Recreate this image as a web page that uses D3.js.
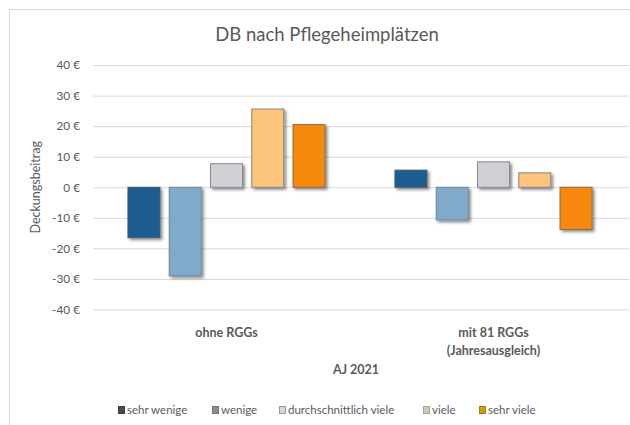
<!DOCTYPE html>
<html>
<head>
<meta charset="utf-8">
<script src="https://cdn.jsdelivr.net/npm/d3@7"></script>
<style>
  html, body { margin: 0; padding: 0; background: #fff; }
  svg { display: block; font-family: Lato, "Open Sans", sans-serif; }
</style>
</head>
<body>
<svg id="chart" width="630" height="425"></svg>
<script>
// Deckungsbeitrag nach Pflegeheimplätzen, AJ 2021
const groups = ["ohne RGGs", "mit 81 RGGs\n(Jahresausgleich)"];
const seriesNames = ["sehr wenige", "wenige", "durchschnittlich viele", "viele", "sehr viele"];
const valuesOhne = [-16.5, -29.0, 7.7, 25.6, 20.5];
const valuesMit = [5.6, -10.7, 8.3, 4.7, -13.8];
const yTicks = [40, 30, 20, 10, 0, -10, -20, -30, -40];
const seriesColors = ["#1b5b8f", "#80aacb", "#cfd0d5", "#fdc47d", "#f7890d"];
const seriesStrokes = ["#4a5f70", "#6f8799", "#8a8a8c", "#8f8477", "#8a6a4a"];
const legendColors = ["#4a4a4a", "#8c8c8c", "#d6d6d6", "#c9cab6", "#cf9a18"];

const rows = [valuesOhne, valuesMit];

const svg = d3.select("#chart");
const textColor = "#595959";

// frame
svg.append("rect")
  .attr("x", 9.5).attr("y", 9.5)
  .attr("width", 640).attr("height", 440)
  .attr("fill", "#fff").attr("stroke", "#d9d9d9");

// drop shadow for bars
const defs = svg.append("defs");
const f = defs.append("filter").attr("id", "shadow")
  .attr("x", "-20%").attr("y", "-20%").attr("width", "150%").attr("height", "150%");
f.append("feDropShadow")
  .attr("dx", 2).attr("dy", 2).attr("stdDeviation", 1.4)
  .attr("flood-color", "#000").attr("flood-opacity", 0.45);

const plot = { left: 93, right: 627, top: 65, bottom: 309.5 };

const y = d3.scaleLinear().domain([-40, 40]).range([plot.bottom, plot.top]);
const x0 = d3.scaleBand().domain(groups).range([plot.left, plot.right])
  .paddingInner(0.258).paddingOuter(0.129);
const x1 = d3.scaleBand().domain(seriesNames).range([0, x0.bandwidth()])
  .paddingInner(0.2).paddingOuter(0);

// title
svg.append("text")
  .attr("x", 327).attr("y", 41)
  .attr("text-anchor", "middle")
  .attr("font-size", 18.5)
  .attr("fill", textColor)
  .text("DB nach Pflegeheimplätzen");

// gridlines + y tick labels
const yAxis = d3.axisLeft(y).tickValues(yTicks)
  .tickSize(-(plot.right - plot.left + 2))
  .tickPadding(13)
  .tickFormat(d => d + " €");
const gY = svg.append("g")
  .attr("transform", `translate(${plot.left},0)`)
  .call(yAxis);
gY.select(".domain").remove();
gY.selectAll(".tick line").attr("stroke", "#d9d9d9").attr("stroke-width", 1);
gY.selectAll(".tick text")
  .attr("fill", textColor)
  .attr("font-size", 11.8)
  .attr("font-family", "Lato, sans-serif");

// y axis title
svg.append("text")
  .attr("transform", `translate(40,${y(0)}) rotate(-90)`)
  .attr("text-anchor", "middle")
  .attr("font-size", 12.5)
  .attr("fill", textColor)
  .text("Deckungsbeitrag");

// bars
const gBars = svg.append("g");
groups.forEach((g, gi) => {
  const gg = gBars.append("g").attr("transform", `translate(${x0(g)},0)`);
  gg.selectAll("rect")
    .data(rows[gi].map((v, i) => ({ v, i, name: seriesNames[i] })))
    .join("rect")
    .attr("x", d => x1(d.name) + 0.5)
    .attr("y", d => Math.min(y(d.v), y(0)))
    .attr("width", x1.bandwidth() - 1)
    .attr("height", d => Math.abs(y(d.v) - y(0)))
    .attr("fill", d => seriesColors[d.i])
    .attr("stroke", d => seriesStrokes[d.i])
    .attr("stroke-width", 1)
    .attr("filter", "url(#shadow)");
});

// category labels
groups.forEach(g => {
  const lines = g.split("\n");
  const t = svg.append("text")
    .attr("text-anchor", "middle")
    .attr("font-size", 12.5)
    .attr("font-weight", "bold")
    .attr("fill", textColor);
  lines.forEach((ln, i) => {
    t.append("tspan")
      .attr("x", x0(g) + x0.bandwidth() / 2)
      .attr("y", 337 + i * 17.5)
      .text(ln);
  });
});

// x axis title
svg.append("text")
  .attr("x", 356).attr("y", 374)
  .attr("text-anchor", "middle")
  .attr("font-size", 12.5)
  .attr("font-weight", "bold")
  .attr("fill", textColor)
  .text("AJ 2021");

// legend
const legendX = [118, 212, 279, 423, 479];
const lg = svg.append("g");
seriesNames.forEach((n, i) => {
  lg.append("rect")
    .attr("x", legendX[i] + 0.5).attr("y", 406.5)
    .attr("width", 6).attr("height", 7)
    .attr("fill", legendColors[i])
    .attr("stroke", i === 2 ? "#9a9a9a" : d3.color(legendColors[i]).darker(0.6))
    .attr("stroke-width", 1);
  lg.append("text")
    .attr("x", legendX[i] + 9).attr("y", 414)
    .attr("font-size", 11.5)
    .attr("fill", textColor)
    .text(n);
});
</script>
</body>
</html>
